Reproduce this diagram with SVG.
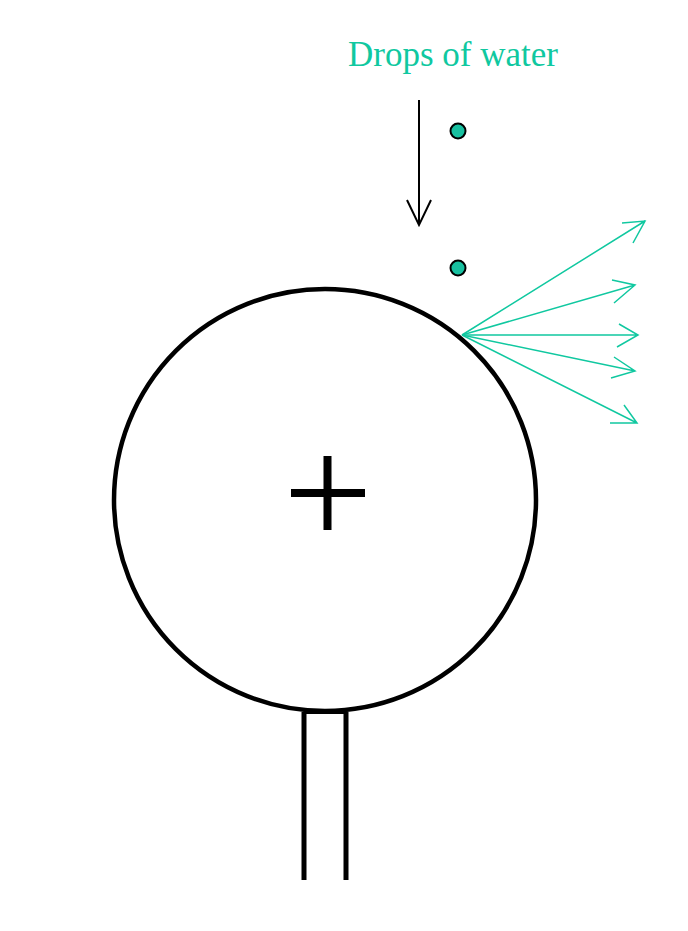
<svg xmlns="http://www.w3.org/2000/svg" width="688" height="931" viewBox="0 0 688 931">
<style>
.blk{fill:none;stroke:#000;}
.ray{fill:none;stroke:#10c8a0;stroke-width:1.5;}
.drop{fill:#18c0a0;stroke:#000;stroke-width:2;}
.lbl{font-family:"Liberation Serif","Times New Roman",serif;font-size:35px;fill:#10c8a0;}
</style>
<rect width="688" height="931" fill="#fff"/>
<g id="label"><text class="lbl" x="348" y="66">Drops of water</text></g>
<g id="drop1"><circle class="drop" cx="458" cy="131" r="7.5"/></g>
<g id="drop2"><circle class="drop" cx="458" cy="268" r="7.5"/></g>
<g id="sphere">
<circle class="blk" cx="325" cy="500" r="211" stroke-width="4.5"/>
<path class="blk" d="M291 493H365M327.5 456V530" stroke-width="8"/>
</g>
<g id="stem">
<path class="blk" d="M304 712V880M346 712V880" stroke-width="5"/>
<path class="blk" d="M304 712H346" stroke-width="4"/>
</g>
<g id="connectors">
<path class="blk" d="M419 100V225M407 200L419 225L431 200" stroke-width="2"/>
<path class="ray" d="M462 335L645 221M622 223L645 221L633 243"/>
<path class="ray" d="M462 335L635 285M612 280L635 285L614 303"/>
<path class="ray" d="M462 335H638M619 324L638 335L617 347"/>
<path class="ray" d="M462 335L635 371M614 357L635 371L611 378"/>
<path class="ray" d="M462 335L637 423M624 405L637 423L610 423"/>
</g>
</svg>
